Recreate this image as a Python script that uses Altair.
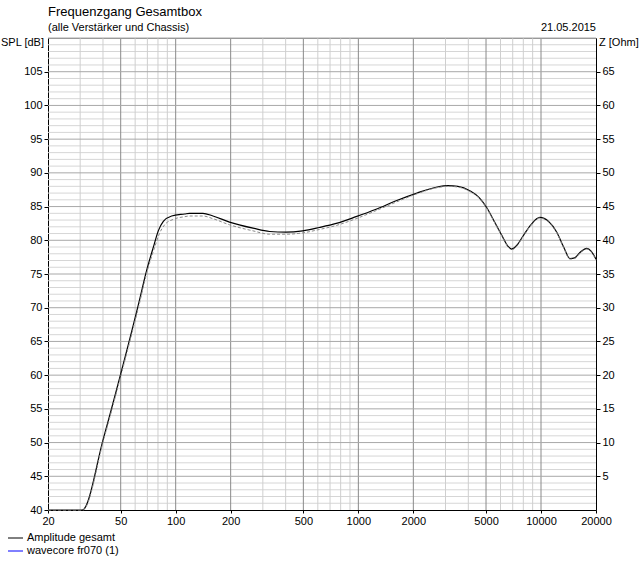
import altair as alt
import pandas as pd

# ---- data ----
freq_main = [20, 30.8, 40.3, 49.6, 62.3, 69.3, 75.9, 80.3, 85.6, 95, 112, 119,
             141, 160, 197, 265, 327, 402, 496, 612, 757, 972, 1250, 1623, 2095, 2700, 3100,
             3500, 4100, 4600, 5030, 5600, 6140, 6600, 6900, 7400, 7960, 8800, 9850, 11000,
             12200, 13300, 14400, 15300, 16500, 17800, 18800, 20000]
spl_main = [40, 40, 50.7, 59.8, 70.3, 75.5, 79.2, 81.4, 82.8, 83.6, 83.9, 84.0,
            84.0, 83.6, 82.7, 81.8, 81.3, 81.2, 81.4, 81.9, 82.5, 83.5, 84.6, 85.9, 87.0, 87.9, 88.1,
            88.0, 87.3, 86.3, 84.9, 82.6, 80.6, 79.1, 78.7, 79.3, 80.6, 82.3, 83.4, 82.8,
            81.2, 79.0, 77.3, 77.4, 78.3, 78.8, 78.4, 77.2]

freq_drv = [20, 31.0, 40.6, 50.0, 62.9, 70.0, 76.8, 81.5, 87.0, 97, 112, 119,
            141, 160, 197, 265, 327, 402, 496, 612, 757, 972, 1250, 1623, 2095, 2700, 3100,
            3500, 4100, 4600, 5030, 5600, 6140, 6600, 6900, 7400, 7960, 8800, 9850, 11000,
            12200, 13300, 14400, 15300, 16500, 17800, 18800, 20000]
spl_drv = [40, 40, 50.7, 59.8, 70.3, 75.5, 79.0, 81.0, 82.3, 83.1, 83.5, 83.6,
           83.6, 83.2, 82.3, 81.4, 80.9, 80.9, 81.1, 81.6, 82.2, 83.2, 84.4, 85.7, 86.9, 87.8, 88.0,
           87.9, 87.2, 86.2, 84.8, 82.5, 80.5, 79.0, 78.6, 79.2, 80.5, 82.2, 83.3, 82.7,
           81.1, 78.9, 77.2, 77.3, 78.2, 78.7, 78.3, 77.1]

x_labels = [20, 50, 100, 200, 500, 1000, 2000, 5000, 10000, 20000]
x_minor = [30, 40, 60, 70, 80, 90, 300, 400, 600, 700, 800, 900, 3000, 4000, 6000, 7000,
           8000, 9000]
x_major_grid = [50, 100, 200, 500, 1000, 2000, 5000, 10000]
y_major = list(range(45, 111, 5))
y_minor = [v for v in range(41, 110) if v % 5 != 0]
y_left_ticks = list(range(40, 106, 5))
y_right_ticks = list(range(45, 106, 5))

title = "Frequenzgang Gesamtbox"
subtitle = "(alle Verstärker und Chassis)"
date = "21.05.2015"
legend_names = ["Amplitude gesamt", "wavecore fr070 (1)"]
legend_colors = ["#000000", "#0000ff"]

FONT = "Liberation Sans"
W, H = 548, 472

xscale = alt.Scale(type="log", domain=[20, 20000], nice=False)
yscale = alt.Scale(domain=[40, 110], nice=False, zero=False)

axis_common = dict(labelFont=FONT, labelFontSize=11, labelColor="#000000",
                   domainColor="#000000", tickColor="#000000", grid=False,
                   title=None, format="d")
XAXIS = alt.Axis(values=x_labels, tickSize=3, labelPadding=2, labelFlush=False,
                 labelOverlap=False, **axis_common)
YLEFT = alt.Axis(orient="left", values=y_left_ticks, tickSize=4, labelPadding=2, **axis_common)
YRIGHT = alt.Axis(orient="right", values=y_right_ticks, tickSize=4, labelPadding=2,
                  labelExpr="datum.value - 40", **axis_common)

def X():
    return alt.X("f:Q", scale=xscale, axis=XAXIS)

def YL():
    return alt.Y("db:Q", scale=yscale, axis=YLEFT)

# grids
vminor = alt.Chart(pd.DataFrame({"f": x_minor})).mark_rule(strokeWidth=1, color="#cfcfcf").encode(x=X())
vmajor = alt.Chart(pd.DataFrame({"f": x_major_grid})).mark_rule(strokeWidth=1, color="#8a8a8a").encode(x=X())
hminor = alt.Chart(pd.DataFrame({"db": y_minor})).mark_rule(strokeWidth=1, color="#d6d6d6").encode(y=YL())
hmajor = alt.Chart(pd.DataFrame({"db": y_major})).mark_rule(strokeWidth=1, color="#a8a8a8").encode(y=YL())

main_df = pd.DataFrame({"f": freq_main, "db": spl_main})
drv_df = pd.DataFrame({"f": freq_drv, "db": spl_drv})

main_line = alt.Chart(main_df).mark_line(color="#000000", strokeWidth=1.2,
                                          interpolate="monotone").encode(x=X(), y=YL())

drv_line = alt.Chart(drv_df).mark_line(color="#8a8a8a", strokeWidth=1, strokeDash=[3, 2],
                                        interpolate="monotone").encode(
    x=X(), y=alt.Y("db:Q", scale=yscale, axis=YRIGHT))

def txt(s, x, y, size=11, align="left"):
    return alt.Chart(pd.DataFrame({"t": [s]})).mark_text(
        font=FONT, fontSize=size, align=align, baseline="middle", color="#000000").encode(
        text="t:N", x=alt.value(x), y=alt.value(y))

texts = [
    txt(title, 0, -26, 13),
    txt(subtitle, 0, -10, 11),
    txt(date, W, -10, 11, "right"),
    txt("SPL [dB]", -4, 5, 11, "right"),
    txt("Z [Ohm]", W + 3, 5, 11, "left"),
    txt(legend_names[0], -21, 500, 11),
    txt(legend_names[1], -21, 513, 11),
]

leg_df = pd.DataFrame({"n": legend_names, "c": legend_colors})
leg1 = alt.Chart(leg_df.iloc[[0]]).mark_rule(color=legend_colors[0]).encode(
    x=alt.value(-40), x2=alt.value(-25), y=alt.value(500))
leg2 = alt.Chart(leg_df.iloc[[1]]).mark_rule(color=legend_colors[1]).encode(
    x=alt.value(-40), x2=alt.value(-25), y=alt.value(513))

base = alt.layer(hminor, vminor, vmajor, hmajor, main_line)
chart = alt.layer(base, drv_line, *texts, leg1, leg2).resolve_scale(y="independent").properties(
    width=W, height=H,
    padding={"left": 48, "top": 38, "right": 44, "bottom": 52},
    autosize=alt.AutoSizeParams(type="none"),
    background="#ffffff",
).configure_view(stroke="#8a8a8a", strokeWidth=1)

chart.save("out.html", embed_options={"renderer": "svg", "actions": False})
